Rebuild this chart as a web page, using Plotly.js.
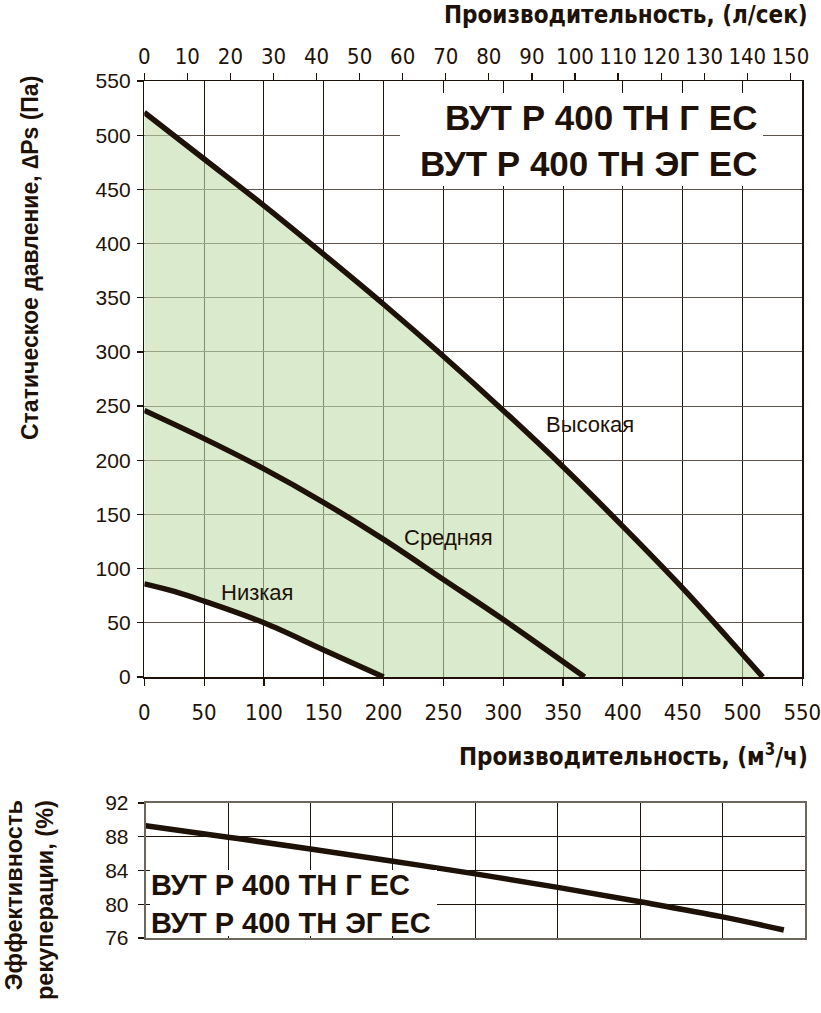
<!DOCTYPE html>
<html>
<head>
<meta charset="utf-8">
<script src="https://cdn.plot.ly/plotly-3.0.1.min.js"></script>
<style>
  html, body { margin: 0; padding: 0; background: #ffffff; }
  #chart { width: 821px; height: 1013px; }
</style>
</head>
<body>
<div id="chart"></div>
<script>
// ---- Data ----
// Flow, m³/h and static pressure, Pa
var seriesNames = ['Высокая', 'Средняя', 'Низкая'];
var highFlow = [0, 50, 100, 150, 200, 250, 300, 350, 400, 450, 500, 517];
var highPressure = [521, 478, 435, 390, 344, 296, 246, 194, 139, 82, 21, 0];
var midFlow = [0, 50, 100, 150, 200, 250, 300, 368];
var midPressure = [246, 220, 192, 161, 127, 90, 53, 0];
var lowFlow = [0, 25, 50, 100, 150, 200];
var lowPressure = [86, 79, 70, 50, 25, 0];

// Recuperation efficiency, % (bottom chart, unlabelled flow axis)
var effFlow = [0, 70, 140, 210, 280, 350, 420, 490, 542];
var effValue = [89.3, 87.95, 86.55, 85.1, 83.6, 82.0, 80.3, 78.5, 76.95];

// Tick labels / axis texts
var modelNames = ['ВУТ Р 400 ТН Г ЕС', 'ВУТ Р 400 ТН ЭГ ЕС'];
var topAxisTitle = 'Производительность, (л/сек)';
var bottomAxisTitle = 'Производительность, (м<sup>3</sup>/ч)';
var pressureTitle = 'Статическое давление, ∆Ps (Па)';
var effTitleLines = ['Эффективность', 'рекуперации, (%)'];

// ---- Styles ----
var W = 821, H = 1013;
var ink = '#1e1208';
var lineW = 5.5;
var narrow = '"Liberation Sans Narrow", "DejaVu Sans Condensed", "Arial Narrow", sans-serif';
var arial = '"Liberation Sans", Arial, sans-serif';
function px(x) { return x / W; }
function py(y) { return 1 - y / H; }

var traces = [
  { x: lowFlow, y: lowPressure, mode: 'lines', line: { width: 0, shape: 'spline', color: 'rgba(0,0,0,0)' },
    hoverinfo: 'skip', showlegend: false, xaxis: 'x', yaxis: 'y' },
  { x: highFlow, y: highPressure, mode: 'lines', fill: 'tonexty', fillcolor: 'rgba(192,220,172,0.6)',
    line: { width: 0, shape: 'spline', color: 'rgba(0,0,0,0)' }, hoverinfo: 'skip', showlegend: false, xaxis: 'x', yaxis: 'y' },
  { x: highFlow, y: highPressure, name: seriesNames[0], mode: 'lines', line: { width: lineW, color: ink, shape: 'spline' }, showlegend: false, xaxis: 'x', yaxis: 'y' },
  { x: midFlow, y: midPressure, name: seriesNames[1], mode: 'lines', line: { width: lineW, color: ink, shape: 'spline' }, showlegend: false, xaxis: 'x', yaxis: 'y' },
  { x: lowFlow, y: lowPressure, name: seriesNames[2], mode: 'lines', line: { width: lineW, color: ink, shape: 'spline' }, showlegend: false, xaxis: 'x', yaxis: 'y' },
  { x: [0], y: [0], mode: 'markers', marker: { opacity: 0, size: 1 }, showlegend: false, hoverinfo: 'skip', xaxis: 'x2', yaxis: 'y' },
  { x: effFlow, y: effValue, mode: 'lines', line: { width: lineW, color: ink, shape: 'spline' }, showlegend: false, xaxis: 'x3', yaxis: 'y3' }
];

var layout = {
  width: W, height: H,
  margin: { l: 0, r: 0, t: 0, b: 0 },
  paper_bgcolor: '#ffffff', plot_bgcolor: '#ffffff',
  showlegend: false,
  font: { family: arial, color: ink },
  xaxis: {
    domain: [px(144.3), px(802.3)], anchor: 'y', range: [0, 550], dtick: 50, tick0: 0,
    showgrid: true, gridcolor: '#1e140c', gridwidth: 1, zeroline: false,
    showline: true, linecolor: ink, linewidth: 1.5, mirror: true,
    ticks: 'outside', ticklen: 7, tickcolor: ink, tickwidth: 1.2,
    ticklabeloverflow: 'allow', ticklabelstandoff: 8,
    tickfont: { family: narrow, size: 22, color: ink }
  },
  xaxis2: {
    overlaying: 'x', side: 'top', anchor: 'y', range: [0, 550 / 3.6], dtick: 10, tick0: 0,
    showgrid: false, zeroline: false, showline: true, linecolor: ink, linewidth: 1.5,
    ticks: 'outside', ticklen: 7, tickcolor: ink, tickwidth: 1.2,
    ticklabeloverflow: 'allow',
    tickfont: { family: narrow, size: 22, color: ink }
  },
  yaxis: {
    domain: [py(677), py(81)], anchor: 'x', range: [0, 550], dtick: 50, tick0: 0,
    showgrid: true, gridcolor: '#5a544c', gridwidth: 1, zeroline: false,
    showline: true, linecolor: ink, linewidth: 1.5, mirror: true,
    ticks: 'outside', ticklen: 6, tickcolor: ink, tickwidth: 1.2,
    ticklabelstandoff: 2,
    tickfont: { family: arial, size: 21, color: ink }
  },
  xaxis3: {
    domain: [px(145.7), px(805)], anchor: 'y3', range: [0, 560], dtick: 70, tick0: 0,
    showgrid: true, gridcolor: '#1e140c', gridwidth: 1, zeroline: false,
    showline: true, linecolor: '#6d665c', linewidth: 2, mirror: true,
    ticks: '', showticklabels: false
  },
  yaxis3: {
    domain: [py(938), py(803)], anchor: 'x3', range: [76, 92], dtick: 4, tick0: 76,
    showgrid: true, gridcolor: '#1e140c', gridwidth: 1, zeroline: false,
    showline: true, linecolor: '#6d665c', linewidth: 2, mirror: true,
    ticks: 'outside', ticklen: 6, tickcolor: ink, tickwidth: 1.2,
    ticklabelstandoff: 5,
    tickfont: { family: arial, size: 21, color: ink }
  },
  shapes: [
    { type: 'rect', xref: 'paper', yref: 'paper', x0: px(400), x1: px(763), y0: py(186), y1: py(93),
      fillcolor: '#ffffff', line: { width: 0 }, layer: 'above' },
    { type: 'rect', xref: 'paper', yref: 'paper', x0: px(150), x1: px(437), y0: py(936), y1: py(870),
      fillcolor: '#ffffff', line: { width: 0 }, layer: 'above' }
  ],
  annotations: [
    { text: '<b>' + modelNames.join('<br>') + '</b>', xref: 'paper', yref: 'paper',
      x: px(759), y: py(140.5), xanchor: 'right', yanchor: 'middle', align: 'right', showarrow: false,
      font: { family: arial, size: 35, color: ink } },
    { text: '<b>' + modelNames.join('<br>') + '</b>', xref: 'paper', yref: 'paper',
      x: px(149), y: py(903.5), xanchor: 'left', yanchor: 'middle', align: 'left', showarrow: false,
      font: { family: arial, size: 29, color: ink } },
    { text: seriesNames[0], xref: 'x', yref: 'y', x: 372.7, y: 232.6, showarrow: false,
      font: { family: arial, size: 22, color: ink } },
    { text: seriesNames[1], xref: 'x', yref: 'y', x: 254, y: 129, showarrow: false,
      font: { family: arial, size: 22, color: ink } },
    { text: seriesNames[2], xref: 'x', yref: 'y', x: 95, y: 78.4, showarrow: false,
      font: { family: arial, size: 22, color: ink } },
    { text: '<b>' + topAxisTitle + '</b>', xref: 'paper', yref: 'paper', x: px(810), y: py(15),
      xanchor: 'right', yanchor: 'middle', showarrow: false,
      font: { family: narrow, size: 24, color: ink } },
    { text: '<b>' + bottomAxisTitle + '</b>', xref: 'paper', yref: 'paper', x: px(810), y: py(755),
      xanchor: 'right', yanchor: 'middle', showarrow: false,
      font: { family: narrow, size: 24, color: ink } },
    { text: '<b>' + pressureTitle + '</b>', xref: 'paper', yref: 'paper', x: px(30), y: py(258),
      xanchor: 'center', yanchor: 'middle', textangle: -90, showarrow: false,
      font: { family: arial, size: 23, color: ink } },
    { text: '<b>' + effTitleLines.join('<br>') + '</b>', xref: 'paper', yref: 'paper', x: px(29), y: py(900),
      xanchor: 'center', yanchor: 'middle', textangle: -90, align: 'right', showarrow: false,
      font: { family: arial, size: 23.5, color: ink } }
  ]
};

Plotly.newPlot('chart', traces, layout, { displayModeBar: false, staticPlot: true });
</script>
</body>
</html>
